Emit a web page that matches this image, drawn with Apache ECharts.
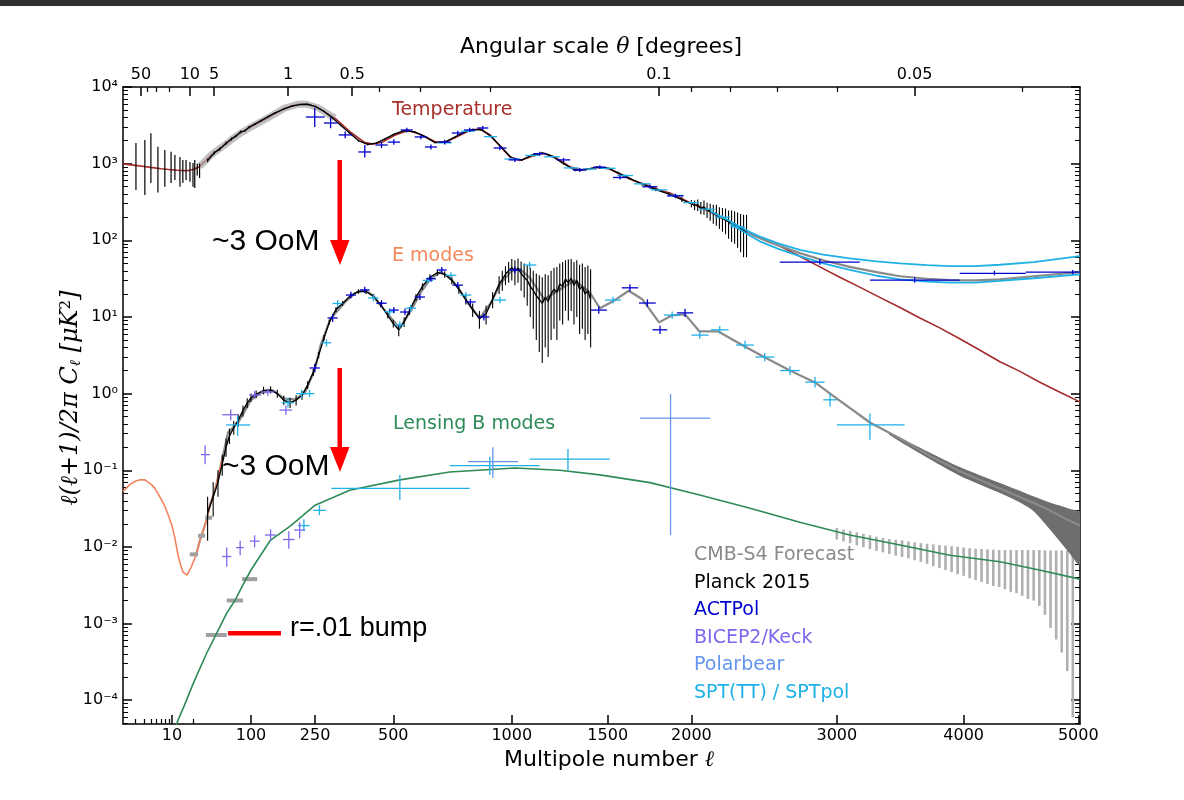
<!DOCTYPE html>
<html><head><meta charset="utf-8">
<script src="https://cdn.jsdelivr.net/npm/echarts@6/dist/echarts.min.js"></script>
<style>html,body{margin:0;padding:0;background:#fff}#c{width:1184px;height:800px}</style>
</head><body><div id="c"></div>
<script>
// ---------------- tick labels ----------------
const L_TICKS = [10, 100, 250, 500, 1000, 1500, 2000, 3000, 4000, 5000];
const L_MINOR = [3, 4, 5, 6, 7, 8, 9, 20];
const THETA_MAJOR = [50, 10, 5, 1, 0.5, 0.1, 0.05];
const THETA_MINOR = [40, 30, 20, 0.4, 0.3, 0.2, 0.09, 0.08, 0.07, 0.06, 0.04];
const Y_POW = [-4, -3, -2, -1, 0, 1, 2, 3, 4];

// ---------------- theory curves [l, D_l] ----------------
const TT_THEORY = [[2,990],[3,950],[4,920],[5,895],[7,860],[9,840],[12,820],[15,812],[18,818],[21,850],[24,920],[28,1080],[33,1300],[40,1520],[50,1800],[60,2100],[75,2500],[100,3000],[134,3950],[172,5300],[204,5950],[225,6000],[257,5400],[306,3950],[356,2550],[401,1880],[430,1800],[460,1900],[505,2350],[554,2700],[604,2400],[659,1950],[700,1900],[745,2200],[800,2650],[851,2850],[900,2350],[944,1700],[990,1230],[1040,1100],[1100,1250],[1160,1370],[1220,1200],[1290,920],[1346,830],[1400,860],[1456,890],[1512,850],[1570,720],[1650,600],[1745,510],[1806,450],[1870,410],[1929,360],[1991,310],[2053,270],[2120,235],[2182,200],[2250,175],[2315,145],[2384,125],[2450,108],[2520,95],[2588,84],[2730,62],[2875,45],[3022,33],[3172,24.5],[3326,18],[3484,13.3],[3642,9.7],[3803,7.2],[3967,5.2],[4134,3.7],[4307,2.6],[4480,1.95],[4650,1.42],[4830,1.05],[5014,0.78]];
const EE_THEORY = [[2,0.053],[2.5,0.065],[3,0.072],[3.5,0.075],[4.1,0.075],[5,0.066],[5.7,0.058],[7,0.042],[7.9,0.034],[9,0.025],[10,0.019],[11,0.013],[12.2,0.0078],[13.5,0.0055],[14.4,0.0047],[16.4,0.0043],[18.9,0.0055],[21.7,0.0078],[24.3,0.0123],[28.6,0.021],[32,0.035],[36.9,0.055],[44.7,0.136],[52.8,0.31],[70,0.42],[85,0.6],[100,0.83],[120,1.02],[145,1.1],[172,0.86],[197,0.84],[222,1.02],[249,2.03],[266,4.4],[294,9.5],[338,15.7],[370,20.5],[401,22.5],[430,19],[445,15.7],[491,9.8],[524,7.2],[565,12],[600,20],[640,31],[683,38.6],[720,33],[755,24.6],[800,15],[851,9.7],[900,15],[950,28],[1000,40],[1040,42],[1090,32],[1160,17],[1230,22],[1320,30],[1400,21],[1456,13],[1530,16],[1620,22],[1700,17],[1800,8.5],[1880,10.5],[1960,10.8],[2050,6.5],[2170,6.5],[2330,4.3],[2480,3.0],[2660,2.0],[2840,1.4],[2950,1.0],[3250,0.42],[3484,0.26],[3720,0.155],[3967,0.097],[4307,0.058],[4590,0.038],[4743,0.03],[4920,0.022],[5014,0.019]];
const BB_THEORY = [[11,4.2e-5],[12.2,5.5e-5],[15,8.5e-5],[20.2,1.67e-4],[29.2,4.1e-4],[38.6,7.5e-4],[51,1.37e-3],[64,2.0e-3],[80,3.2e-3],[100,0.005],[140,0.0123],[187,0.019],[250,0.035],[352,0.055],[524,0.075],[721,0.095],[1015,0.107],[1240,0.1],[1456,0.087],[1745,0.069],[2053,0.0475],[2384,0.032],[2730,0.021],[3096,0.0143],[3484,0.0106],[3885,0.0078],[4307,0.0064],[4650,0.0050],[5014,0.0038]];

// ---------------- CMB-S4 forecast ----------------
const S4_TT_HIGH = [[2250,172],[2384,122],[2500,97],[2730,68],[2900,55],[3096,45],[3300,38.5],[3484,34],[3700,31.5],[3885,30.3],[4100,30],[4307,31],[4600,34],[5014,38.5]];
const S4_EE_BAND = [[3400,0.29,0.31],[3720,0.14,0.17],[3967,0.085,0.11],[4307,0.0505,0.068],[4450,0.040,0.056],[4590,0.030,0.046],[4743,0.017,0.038],[4850,0.011,0.034],[4920,0.0083,0.0315],[5014,0.0059,0.0278]];
const S4_LOW_BINS = [[18,23,0.008],[23,28,0.014],[28,34,0.024],[28.6,51,7.1e-4],[51,80,0.0020],[78,112,0.0038]];
const S4_BB_BARS = [[3000,0.0125,0.0176],[3050,0.0118,0.0168],[3100,0.0112,0.0162],[3150,0.0105,0.0155],[3200,0.0099,0.0148],[3250,0.0094,0.0142],[3300,0.0089,0.0136],[3350,0.0085,0.0131],[3400,0.0081,0.0127],[3450,0.0077,0.0124],[3500,0.0074,0.0122],[3550,0.0071,0.0118],[3600,0.0067,0.0115],[3650,0.0064,0.0112],[3700,0.0060,0.0110],[3750,0.0056,0.0108],[3800,0.0053,0.0106],[3850,0.0050,0.0104],[3900,0.0047,0.0102],[3950,0.0044,0.0100],[4000,0.0042,0.0098],[4050,0.0039,0.0096],[4100,0.0037,0.0095],[4150,0.0035,0.0094],[4200,0.0033,0.0093],[4250,0.0031,0.0092],[4300,0.0030,0.0091],[4350,0.0028,0.0091],[4400,0.0026,0.0091],[4450,0.0025,0.0091],[4500,0.0023,0.0091],[4550,0.0021,0.0091],[4600,0.0020,0.0091],[4650,0.0017,0.0091],[4700,0.0013,0.0090],[4750,0.00088,0.0090],[4800,0.00062,0.0090],[4850,0.00042,0.0090],[4900,0.00024,0.0089],[4950,0.00006,0.0089]];

// ---------------- Planck 2015 [l, D, lo, hi] ----------------
const PLANCK_TT_LOW = [[3.06,960,453,1860],[4.1,900,390,2040],[5,1200,560,2500],[6.3,850,420,1660],[7.9,850,500,1510],[9.7,880,560,1430],[11,900,612,1300],[13,780,500,1220],[14.3,800,560,1120],[15.9,830,612,1120],[18.1,780,580,1050],[20,720,500,1020],[21,740,480,1120],[22.5,880,700,1000],[24,840,650,1000]];
const PLANCK_TT = [[30,1100,1040,1160],[36,1380,1310,1450],[42,1550,1470,1630],[50,1850,1770,1930],[58,2100,2010,2190],[66,2300,2210,2390],[75,2600,2500,2700],[85,2700,2600,2800],[95,3000,2900,3100],[108,3300,3200,3400],[120,3650,3550,3750],[135,4100,3990,4210],[150,4600,4490,4710],[170,5150,5040,5260],[190,5650,5540,5760],[210,5900,5790,6010],[230,5950,5840,6060],[250,5600,5500,5700],[275,4800,4710,4890],[300,3950,3870,4030],[325,3150,3080,3220],[350,2550,2490,2610],[380,2000,1950,2050],[410,1780,1735,1825],[440,1850,1805,1895],[470,2100,2055,2145],[500,2400,2355,2445],[540,2700,2655,2745],[580,2600,2555,2645],[620,2250,2210,2290],[660,1880,1845,1915],[700,1900,1865,1935],[740,2200,2160,2240],[780,2550,2510,2590],[820,2800,2755,2845],[860,2750,2705,2795],[900,2300,2260,2340],[950,1650,1615,1685],[1000,1180,1150,1210],[1050,1120,1090,1150],[1100,1300,1270,1330],[1150,1380,1350,1410],[1200,1250,1220,1280],[1260,1000,970,1030],[1320,820,795,845],[1380,840,815,865],[1440,900,875,925],[1500,880,855,905],[1560,760,735,785],[1620,650,625,675],[1700,540,515,565],[1780,460,435,485],[1860,400,375,425],[1940,340,315,365],[2000,300,268,335],[2020,285,248,330],[2040,292,242,340],[2060,262,218,315],[2080,272,215,330],[2100,248,195,310],[2120,242,180,300],[2140,222,165,290],[2160,225,155,290],[2180,198,140,270],[2200,200,130,265],[2220,182,120,260],[2240,176,105,245],[2260,160,95,245],[2280,164,90,240],[2300,145,80,230],[2320,148,70,220],[2340,128,60,215],[2360,138,60,215]];
const PLANCK_EE = [[30,0.028,0.012,0.045],[35,0.045,0.025,0.07],[40,0.07,0.045,0.1],[45,0.12,0.085,0.16],[50,0.2,0.15,0.26],[55,0.28,0.22,0.35],[62,0.36,0.29,0.44],[70,0.45,0.37,0.54],[80,0.6,0.5,0.7],[90,0.75,0.65,0.87],[100,0.88,0.78,1.0],[110,0.98,0.87,1.1],[125,1.1,0.98,1.23],[140,1.12,1.0,1.25],[155,1.0,0.88,1.12],[170,0.82,0.71,0.94],[185,0.76,0.65,0.88],[200,0.82,0.7,0.95],[215,0.95,0.83,1.08],[230,1.3,1.15,1.45],[245,1.9,1.7,2.1],[260,3.2,2.9,3.5],[275,5.3,4.9,5.8],[290,8.5,7.9,9.2],[310,12.5,11.6,13.5],[330,15,14,16.1],[355,19,17.8,20.3],[380,21.5,20.1,23],[405,21.5,20,23],[430,18.5,17.2,19.9],[455,14.5,13.4,15.7],[480,10.5,9.6,11.5],[500,8.2,7.3,9.2],[520,6.8,5.6,8],[540,8.6,7.4,9.9],[560,12,10.6,13.5],[585,18,16.2,19.9],[610,25,22.7,27.5],[640,33,30,36],[670,38,34.5,41.5],[700,36,32.5,39.5],[730,30,26.5,33.5],[760,23,20,26],[790,17,14.5,19.5],[820,12.5,10,15],[850,9.5,7,12],[880,11,8,14],[910,17,13,21],[940,27,20,34],[955,31,22,40],[970,36,26,46],[985,40,28,52],[1000,44,30,57],[1015,40,26,55],[1030,43,28,58],[1045,37,22,53],[1060,33,18,50],[1075,30,14,47],[1090,25,10,44],[1105,22,7,40],[1120,19,5,37],[1135,17,3.5,35],[1150,15,2.5,33],[1165,18,4,36],[1180,16,3,35],[1195,20,5,40],[1210,23,7,44],[1225,21,5,45],[1240,27,9,50],[1255,25,8,52],[1270,31,12,55],[1285,28,9,56],[1300,32,12,57],[1315,26,8,52],[1330,30,10,55],[1345,23,6,48],[1360,25,7,50],[1375,20,5,45],[1390,22,6,47],[1405,17,4,42]];

// ---------------- experiments [l, l_lo, l_hi, D, D_lo, D_hi] ----------------
const ACT_TT = [[249,225,277,4060,3010,5330],[294,275,315,3390,2900,4000],[338,318,360,2370,2150,2620],[401,380,422,1420,1200,1750],[458,437,480,1750,1600,1920],[502,480,525,1910,1760,2080],[550,527,573,2750,2550,2950],[604,580,628,2230,2080,2400],[644,620,668,1650,1530,1780],[700,675,725,1910,1780,2050],[755,730,780,2510,2350,2680],[807,782,832,2750,2580,2930],[865,840,890,2920,2740,3100],[944,915,975,1600,1500,1700],[1015,985,1045,1120,1050,1190],[1137,1105,1170,1350,1270,1430],[1260,1225,1295,1120,1050,1190],[1346,1310,1380,830,780,880],[1456,1420,1490,900,850,950],[1570,1530,1610,660,620,700],[1745,1700,1790,500,470,530],[1900,1850,1950,380,355,405],[2875,2588,3172,52,48,57],[3600,3250,3967,30.3,28,33],[4260,3967,4530,37,35,40],[4950,4530,5014,38.5,36,41]];
const ACT_EE = [[249,235,263,2.16,1.9,2.45],[300,285,315,9.7,8.6,10.9],[356,340,372,19.3,17.5,21.3],[401,385,417,22.5,20.5,24.7],[458,440,476,15.1,13.7,16.6],[502,484,520,12.3,11.2,13.5],[543,525,561,11.6,10.5,12.8],[600,580,620,18.2,16.6,20],[644,624,664,31.5,28.8,34.5],[688,668,708,41,37.5,44.8],[755,733,777,26,23.7,28.5],[810,787,833,15.7,14.3,17.2],[870,845,895,10,9,11.1],[1015,985,1045,41,37,45.5],[1450,1405,1495,12.3,11,13.8],[1627,1580,1675,24,21.5,26.8],[1730,1680,1780,15.2,13.6,17],[1806,1760,1850,6.8,6,7.7],[1960,1910,2010,11.3,10,12.8]];
const SPT_TT = [[700,670,730,1870,1800,1940],[800,770,830,2650,2560,2740],[900,870,930,2250,2170,2330],[1000,965,1035,1150,1110,1190],[1100,1065,1135,1280,1240,1320],[1200,1160,1240,1230,1190,1270],[1300,1260,1340,880,850,910],[1400,1360,1440,850,820,880],[1500,1455,1545,870,840,900],[1600,1555,1645,700,675,725],[1700,1650,1750,545,525,565],[1800,1750,1850,455,438,472],[1900,1850,1950,385,370,400],[2000,1950,2050,310,297,323],[2100,2050,2150,255,244,266],[2200,2150,2250,200,190,210],[2300,2250,2350,150,141,159]];
const SPT_TT_UPPER = [[2120,240],[2182,208],[2250,178],[2315,150],[2384,128],[2450,112],[2588,90],[2730,75],[2900,65],[3096,58],[3300,53],[3484,50],[3700,47.5],[3885,46],[4100,46],[4307,48],[4600,52],[5014,62]];
const SPT_TT_LOWER = [[2250,165],[2315,138],[2384,115],[2450,97],[2588,76],[2730,62],[2900,50],[3096,41],[3300,34.5],[3484,31],[3700,29],[3885,28],[4100,28],[4307,29.5],[4600,32],[5014,36]];
const SPT_EE = [[69,50,98,0.39,0.28,0.51],[180,165,195,0.76,0.66,0.87],[214,200,228,1.0,0.88,1.12],[235,222,248,1.0,0.9,1.12],[282,268,296,4.6,4.1,5.1],[315,300,330,15,13.5,16.6],[430,412,448,17.7,16,19.5],[487,468,506,11.7,10.5,13],[524,505,543,7.85,7,8.8],[565,545,585,13,11.7,14.4],[632,611,653,30,27.3,33],[726,703,749,35,32,38.3],[790,766,814,19.3,17.6,21.2],[944,915,973,16.6,15,18.4],[1087,1055,1120,47.6,43,52.6],[1530,1485,1575,16.6,15,18.4],[1880,1830,1930,10.6,9.5,11.8],[2053,2000,2110,5.8,5.2,6.5],[2182,2125,2240,6.8,6.1,7.6],[2350,2290,2410,4.3,3.8,4.9],[2484,2420,2550,3.0,2.65,3.4],[2660,2590,2730,2.0,1.75,2.3],[2840,2770,2910,1.41,1.2,1.65],[2950,2900,3000,0.83,0.68,1.0],[3250,3000,3520,0.39,0.25,0.55]];
const SPT_BB = [[220,205,235,0.019,0.016,0.023],[262,245,280,0.030,0.026,0.035],[524,296,807,0.058,0.041,0.087],[897,721,1137,0.115,0.087,0.15],[1283,1087,1512,0.14,0.1,0.19]];
const BICEP_EE = [[28,25,32,0.16,0.12,0.21],[57,45,70,0.53,0.45,0.62],[107,95,120,0.96,0.85,1.08],[134,120,148,1.05,0.94,1.17],[175,160,190,0.61,0.53,0.7]];
const BICEP_BB = [[51,45,58,0.0075,0.0055,0.0098],[74,66,82,0.0098,0.0078,0.012],[107,97,117,0.0119,0.0099,0.0142],[140,128,152,0.0143,0.012,0.017],[182,168,196,0.0125,0.0095,0.016],[209,195,223,0.0166,0.013,0.021]];
const POLARBEAR_BB = [[911,800,1030,0.13,0.08,0.2],[1870,1686,2120,0.48,0.0143,0.99]];

// ---------------- axis transform (custom multipole scale) ----------------
const LOG = Math.log10;
function u(l) {
  if (l <= 10) return 49 * LOG(l / 2) / LOG(5);
  if (l <= 20) return 49 + 21 * LOG(l / 10) / LOG(2);
  if (l <= 100) return 70 + 58 * LOG(l / 20) / LOG(5);
  return 40.5 + 5.52 * Math.pow(l, 0.6);
}
const XMAX = 957, YMIN = -4.31, YMAX = 4;
const tr = arr => arr.map(p => [u(p[0]), LOG(p[1])]);
const nearest = (v, list, f) => { let b = list[0], d = 1e9; list.forEach(t => { const dd = Math.abs(f(t) - v); if (dd < d) { d = dd; b = t; } }); return b; };
const thetaU = t => u(180 / t);
const sup = n => String(n).split('').map(c => ({'-':'\u207B','0':'\u2070','1':'\u00B9','2':'\u00B2','3':'\u00B3','4':'\u2074','5':'\u2075','6':'\u2076','7':'\u2077','8':'\u2078','9':'\u2079'})[c]).join('');
const yMinor = [];
for (let n = -5; n < 4; n++) for (let k = 2; k < 10; k++) { const v = n + LOG(k); if (v > YMIN && v < YMAX) yMinor.push(v); }

const C = { act: '#0000cd', bicep: '#7b68ee', pb: '#6495ed', spt: '#1fb1e6', tt: '#a52a2a', ee: '#f4845f', bb: '#2e8b57' };

function line(name, arr, color, width, z, extra) {
  return Object.assign({ type: 'line', name, data: tr(arr), symbol: 'none', showSymbol: false, silent: true, animation: false,
    lineStyle: { color, width }, itemStyle: { color }, z, clip: true }, extra || {});
}
function crosses(name, rows, color, width, z) {
  return { type: 'custom', name, z, silent: true, animation: false, clip: true, itemStyle: { color },
    data: rows.map(r => [u(r[0]), u(r[1]), u(r[2]), LOG(r[3]), LOG(r[4]), LOG(r[5])]),
    encode: { x: [0, 1, 2], y: [3, 4, 5] },
    renderItem: (p, api) => {
      const a = api.coord([api.value(1), api.value(3)]), b = api.coord([api.value(2), api.value(3)]);
      const c = api.coord([api.value(0), api.value(4)]), d = api.coord([api.value(0), api.value(5)]);
      return { type: 'group', children: [
        { type: 'line', shape: { x1: a[0], y1: a[1], x2: b[0], y2: b[1] }, style: { stroke: color, lineWidth: width } },
        { type: 'line', shape: { x1: c[0], y1: c[1], x2: d[0], y2: d[1] }, style: { stroke: color, lineWidth: width } }] };
    } };
}
function vbars(name, rows, color, width, z) { // rows [l, lo, hi]
  return { type: 'custom', name, z, silent: true, animation: false, clip: true, itemStyle: { color },
    data: rows.map(r => [u(r[0]), LOG(r[1]), LOG(r[2])]), encode: { x: 0, y: [1, 2] },
    renderItem: (p, api) => {
      const a = api.coord([api.value(0), api.value(1)]), b = api.coord([api.value(0), api.value(2)]);
      return { type: 'line', shape: { x1: a[0], y1: a[1], x2: b[0], y2: b[1] }, style: { stroke: color, lineWidth: width } };
    } };
}
function hbars(name, rows, color, width, z) { // rows [l1, l2, D]
  return { type: 'custom', name, z, silent: true, animation: false, clip: true, itemStyle: { color },
    data: rows.map(r => [u(r[0]), u(r[1]), LOG(r[2])]), encode: { x: [0, 1], y: 2 },
    renderItem: (p, api) => {
      const a = api.coord([api.value(0), api.value(2)]), b = api.coord([api.value(1), api.value(2)]);
      return { type: 'line', shape: { x1: a[0], y1: a[1], x2: b[0], y2: b[1] }, style: { stroke: color, lineWidth: width } };
    } };
}
function band(name, rows, color, z) { // rows [l, lo, hi]
  const data = rows.map(r => [u(r[0]), LOG(r[1]), LOG(r[2])]);
  return { type: 'custom', name, z, silent: true, animation: false, clip: true, itemStyle: { color },
    data, encode: { x: 0, y: [1, 2] },
    renderItem: (p, api) => {
      if (p.dataIndex !== 0) return null;
      const top = data.map(d => api.coord([d[0], d[2]]));
      const bot = data.slice().reverse().map(d => api.coord([d[0], d[1]]));
      return { type: 'polygon', shape: { points: top.concat(bot), smooth: 0.3 }, style: { fill: color } };
    } };
}

const axLine = { show: true, onZero: false, lineStyle: { color: '#000', width: 1.5 } };
const noLine = { show: false, onZero: false };
const xBase = { type: 'value', min: 0, max: XMAX, gridIndex: 0, splitLine: { show: false } };
const yBase = { type: 'value', min: YMIN, max: YMAX, gridIndex: 0, splitLine: { show: false } };
const tickFont = { fontFamily: 'DejaVu Sans', fontSize: 16, color: '#000' };

const option = {
  backgroundColor: '#ffffff',
  animation: false,
  textStyle: { fontFamily: 'DejaVu Sans' },
  grid: { left: 123, right: 104, top: 87, bottom: 76, containLabel: false },
  xAxis: [
    Object.assign({}, xBase, { position: 'bottom', axisLine: axLine,
      axisTick: { inside: true, length: 9, customValues: L_TICKS.map(u), lineStyle: { color: '#000', width: 1.5 } },
      axisLabel: Object.assign({ customValues: L_TICKS.map(u), margin: 4, formatter: v => String(nearest(v, L_TICKS, u)) }, tickFont) }),
    Object.assign({}, xBase, { position: 'bottom', axisLine: noLine,
      axisTick: { inside: true, length: 5, customValues: L_MINOR.map(u), lineStyle: { color: '#000', width: 1.2 } },
      axisLabel: { show: false } }),
    Object.assign({}, xBase, { position: 'top', axisLine: axLine,
      axisTick: { inside: true, length: 9, customValues: THETA_MAJOR.map(thetaU), lineStyle: { color: '#000', width: 1.5 } },
      axisLabel: Object.assign({ customValues: THETA_MAJOR.map(thetaU), margin: 4, formatter: v => String(nearest(v, THETA_MAJOR, thetaU)) }, tickFont) }),
    Object.assign({}, xBase, { position: 'top', axisLine: noLine,
      axisTick: { inside: true, length: 5, customValues: THETA_MINOR.map(thetaU), lineStyle: { color: '#000', width: 1.2 } },
      axisLabel: { show: false } })
  ],
  yAxis: [
    Object.assign({}, yBase, { position: 'left', axisLine: axLine,
      axisTick: { inside: true, length: 9, customValues: Y_POW, lineStyle: { color: '#000', width: 1.5 } },
      axisLabel: Object.assign({ customValues: Y_POW, margin: 5, formatter: v => '10' + sup(Math.round(v)) }, tickFont) }),
    Object.assign({}, yBase, { position: 'left', axisLine: noLine,
      axisTick: { inside: true, length: 5, customValues: yMinor, lineStyle: { color: '#000', width: 1 } }, axisLabel: { show: false } }),
    Object.assign({}, yBase, { position: 'right', axisLine: axLine,
      axisTick: { inside: true, length: 9, customValues: Y_POW, lineStyle: { color: '#000', width: 1.5 } }, axisLabel: { show: false } }),
    Object.assign({}, yBase, { position: 'right', axisLine: noLine,
      axisTick: { inside: true, length: 5, customValues: yMinor, lineStyle: { color: '#000', width: 1 } }, axisLabel: { show: false } })
  ],
  legend: {
    orient: 'vertical', left: 684, top: 541, itemGap: 8.5, icon: 'none', itemWidth: 0, itemHeight: 12, selectedMode: false,
    textStyle: { fontFamily: 'DejaVu Sans', fontSize: 19 },
    data: [
      { name: 'CMB-S4 Forecast', textStyle: { color: '#8a8a8a' } },
      { name: 'Planck 2015', textStyle: { color: '#000000' } },
      { name: 'ACTPol', textStyle: { color: '#0000cd' } },
      { name: 'BICEP2/Keck', textStyle: { color: '#7b68ee' } },
      { name: 'Polarbear', textStyle: { color: '#6495ed' } },
      { name: 'SPT(TT) / SPTpol', textStyle: { color: '#1fb1e6' } }
    ]
  },
  series: [
    vbars('CMB-S4 Forecast', S4_BB_BARS, '#b0b0b0', 2.6, 1),
    band('CMB-S4 Forecast', S4_EE_BAND, '#6e6e6e', 2),
    line('TT theory', TT_THEORY, C.tt, 1.6, 3),
    line('CMB-S4 Forecast', TT_THEORY.filter(p => p[0] >= 24 && p[0] <= 306), '#a8a8a8', 7, 3, { lineStyle: { color: '#a8a8a8', width: 7, opacity: 0.7 } }),
    line('CMB-S4 Forecast', S4_TT_HIGH, '#8a8a8a', 2.2, 3),
    line('CMB-S4 Forecast', EE_THEORY.filter(p => p[0] >= 20), '#8a8a8a', 2.2, 3),
    line('EE theory', EE_THEORY.filter(p => p[0] <= 45), C.ee, 1.6, 3),
    hbars('CMB-S4 Forecast', S4_LOW_BINS, '#a0a0a0', 4, 4),
    line('BB theory', BB_THEORY, C.bb, 1.6, 5),
    vbars('Planck 2015', PLANCK_TT_LOW.map(r => [r[0], r[2], r[3]]), '#000', 1.2, 6),
    line('Planck 2015', PLANCK_TT, '#000', 1.4, 6),
    vbars('Planck 2015', PLANCK_TT.map(r => [r[0], r[2], r[3]]), '#000', 1.1, 6),
    line('Planck 2015', PLANCK_EE, '#000', 1.4, 6),
    vbars('Planck 2015', PLANCK_EE.map(r => [r[0], r[2], r[3]]), '#000', 1.1, 6),
    line('SPT(TT) / SPTpol', SPT_TT_UPPER, C.spt, 1.8, 7),
    line('SPT(TT) / SPTpol', SPT_TT_LOWER, C.spt, 1.8, 7),
    crosses('SPT(TT) / SPTpol', SPT_TT, C.spt, 1.3, 8),
    crosses('SPT(TT) / SPTpol', SPT_EE, C.spt, 1.3, 8),
    crosses('SPT(TT) / SPTpol', SPT_BB, C.spt, 1.3, 8),
    crosses('ACTPol', ACT_TT, C.act, 1.3, 9),
    crosses('ACTPol', ACT_EE, C.act, 1.3, 9),
    crosses('BICEP2/Keck', BICEP_EE, C.bicep, 1.3, 9),
    crosses('BICEP2/Keck', BICEP_BB, C.bicep, 1.3, 9),
    crosses('Polarbear', POLARBEAR_BB, C.pb, 1.3, 9)
  ],
  graphic: [
    { type: 'rect', shape: { x: 0, y: 0, width: 1184, height: 6 }, style: { fill: '#2f2f2f' }, silent: true },
    { type: 'text', x: 601, y: 47, style: { text: 'Angular scale {i|\u03B8} [degrees]', font: '22px "DejaVu Sans"', fill: '#000', align: 'center', verticalAlign: 'middle',
      rich: { i: { fontFamily: 'DejaVu Serif', fontStyle: 'italic', fontSize: 22 } } }, silent: true },
    { type: 'text', x: 609, y: 760, style: { text: 'Multipole number {i|\u2113}', font: '22px "DejaVu Sans"', fill: '#000', align: 'center', verticalAlign: 'middle',
      rich: { i: { fontFamily: 'DejaVu Serif', fontStyle: 'italic', fontSize: 22 } } }, silent: true },
    { type: 'text', x: 71, y: 398, rotation: Math.PI / 2,
      style: { text: '\u2113(\u2113+1)/2\u03C0 C{s|\u2113} [\u03BCK{p|2}]', font: 'italic 24px "DejaVu Serif"', fill: '#000', align: 'center', verticalAlign: 'middle',
        rich: { s: { font: 'italic 15px "DejaVu Serif"', verticalAlign: 'bottom', padding: [10, 0, 0, 0] }, p: { font: '15px "DejaVu Serif"', verticalAlign: 'top', padding: [0, 0, 10, 0] } } }, silent: true },
    { type: 'text', x: 392, y: 110, style: { text: 'Temperature', font: '19px "DejaVu Sans"', fill: '#a8302c', verticalAlign: 'middle' }, silent: true },
    { type: 'text', x: 392, y: 256, style: { text: 'E modes', font: '19px "DejaVu Sans"', fill: '#f3895d', verticalAlign: 'middle' }, silent: true },
    { type: 'text', x: 393, y: 424, style: { text: 'Lensing B modes', font: '19px "DejaVu Sans"', fill: '#2e8b57', verticalAlign: 'middle' }, silent: true },
    { type: 'text', x: 212, y: 242, style: { text: '~3 OoM', font: '30px "Liberation Sans"', fill: '#000', verticalAlign: 'middle' }, silent: true },
    { type: 'text', x: 222, y: 467, style: { text: '~3 OoM', font: '30px "Liberation Sans"', fill: '#000', verticalAlign: 'middle' }, silent: true },
    { type: 'text', x: 290, y: 629, style: { text: 'r=.01 bump', font: '27px "Liberation Sans"', fill: '#000', verticalAlign: 'middle' }, silent: true },
    { type: 'rect', shape: { x: 228, y: 631, width: 53, height: 4.5 }, style: { fill: '#ff0000' }, silent: true },
    { type: 'rect', shape: { x: 337.5, y: 160, width: 4.5, height: 84 }, style: { fill: '#ff0000' }, silent: true },
    { type: 'polygon', shape: { points: [[330, 240], [349.5, 240], [340, 265]] }, style: { fill: '#ff0000' }, silent: true },
    { type: 'rect', shape: { x: 337.5, y: 368, width: 4.5, height: 82 }, style: { fill: '#ff0000' }, silent: true },
    { type: 'polygon', shape: { points: [[330, 447], [349.5, 447], [340, 472]] }, style: { fill: '#ff0000' }, silent: true }
  ]
};
const chart = echarts.init(document.getElementById('c'));
chart.setOption(option);
</script></body></html>
